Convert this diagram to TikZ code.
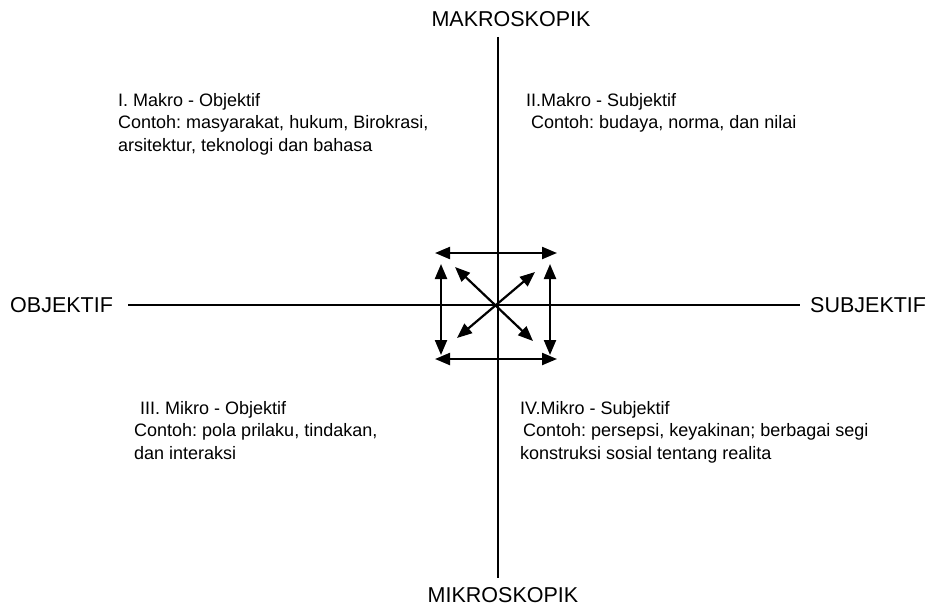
\documentclass[tikz,border=0pt]{standalone}
\usepackage{fontspec}
\setmainfont{Liberation Sans}
\usetikzlibrary{arrows.meta}
\frenchspacing

\begin{document}
\begin{tikzpicture}[
  x=1pt,y=-1pt,
  axislabel/.style={font=\fontsize{21.5}{26}\selectfont,inner sep=0pt},
  quadtext/.style={font=\fontsize{18}{22.5}\selectfont,align=left,inner sep=0pt,anchor=north west},
  axisline/.style={line width=1.6pt},
  dblarrow/.style={{Triangle[length=15pt,width=12pt]}-{Triangle[length=15pt,width=12pt]},line width=2.2pt}
]
\useasboundingbox (0,0) rectangle (934,610);

% axis labels
\node[axislabel] (makro) at (511,19) {MAKROSKOPIK};
\node[axislabel] (mikro) at (503,595) {MIKROSKOPIK};
\node[axislabel,anchor=west] (obj) at (10,305) {OBJEKTIF};
\node[axislabel,anchor=west] (subj) at (810,305) {SUBJEKTIF};

% axis ends
\coordinate (vtop) at (498,37);
\coordinate (vbot) at (498,578);
\coordinate (hleft) at (128,305);
\coordinate (hright) at (800,305);

\draw[axisline] (vtop) -- (vbot);
\draw[axisline] (hleft) -- (hright);

% quadrants
\node[quadtext] (q1) at (118,93) {I. Makro - Objektif\\
  Contoh: masyarakat, hukum, Birokrasi,\\
  arsitektur, teknologi dan bahasa};
\node[quadtext] (q2) at (526,93) {II.Makro - Subjektif\\
  \hspace*{5pt}Contoh: budaya, norma, dan nilai};
\node[quadtext] (q3) at (134,401) {\hspace*{6pt}III. Mikro - Objektif\\
  Contoh: pola prilaku, tindakan,\\
  dan interaksi};
\node[quadtext] (q4) at (520,401) {IV.Mikro - Subjektif\\
  \hspace*{3pt}Contoh: persepsi, keyakinan; berbagai segi\\
  konstruksi sosial tentang realita};

% arrows round the centre
\coordinate (tl) at (435,253);
\coordinate (tr) at (557,253);
\coordinate (bl) at (435,359);
\coordinate (br) at (557,359);
\coordinate (lt) at (441,264);
\coordinate (lb) at (441,355);
\coordinate (rt) at (550,264);
\coordinate (rb) at (550,355);
\coordinate (dul) at (455,267);
\coordinate (ddr) at (533,341);
\coordinate (ddl) at (457,338);
\coordinate (dur) at (535,272);

\draw[dblarrow] (tl) -- (tr);
\draw[dblarrow] (bl) -- (br);
\draw[dblarrow] (lt) -- (lb);
\draw[dblarrow] (rt) -- (rb);
\draw[dblarrow] (dul) -- (ddr);
\draw[dblarrow] (ddl) -- (dur);
\end{tikzpicture}
\end{document}
